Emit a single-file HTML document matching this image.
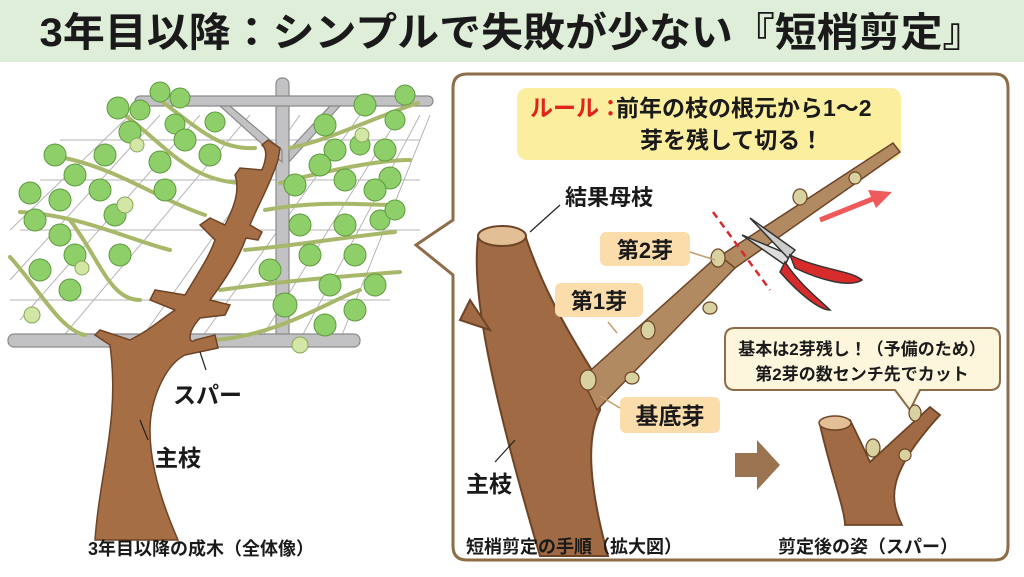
<!DOCTYPE html>
<html><head><meta charset="utf-8"><style>
body{margin:0;width:1024px;height:572px;background:#fff;overflow:hidden;font-family:"Liberation Sans","Noto Sans CJK JP",sans-serif}
svg text{font-family:"Liberation Sans","Noto Sans CJK JP",sans-serif;font-weight:bold}
</style></head><body>
<svg width="1024" height="572" viewBox="0 0 1024 572" xmlns="http://www.w3.org/2000/svg">
<rect x="0" y="0" width="1024" height="62" fill="#dfeed8"/>
<text x="512" y="46" font-size="40" text-anchor="middle" fill="#1a1a1a" textLength="945" lengthAdjust="spacingAndGlyphs">3年目以降：シンプルで失敗が少ない『短梢剪定』</text>

<!-- trellis -->
<g stroke="#b5b5b5" stroke-width="1">
<line x1="20" y1="230" x2="420" y2="230"/><line x1="10" y1="230" x2="130" y2="115"/>
<line x1="40" y1="180" x2="420" y2="180"/><line x1="60" y1="140" x2="420" y2="140"/>
<line x1="10" y1="300" x2="390" y2="300"/>
<line x1="10" y1="280" x2="160" y2="115"/><line x1="20" y1="320" x2="200" y2="115"/>
<line x1="60" y1="340" x2="250" y2="115"/><line x1="140" y1="340" x2="300" y2="115"/>
<line x1="200" y1="340" x2="360" y2="115"/><line x1="260" y1="340" x2="400" y2="115"/>
<line x1="300" y1="340" x2="420" y2="115"/><line x1="340" y1="340" x2="430" y2="115"/>
</g>
<g fill="#c2c2c4" stroke="#8a8a8a" stroke-width="1.2">
<rect x="276" y="78" width="13" height="262" rx="6"/>
<rect x="135" y="96" width="298" height="10" rx="5"/>
<rect x="8" y="334" width="352" height="13" rx="6"/>
<path d="M220 106 L230 106 L282 150 L282 162 Z"/><path d="M340 106 L330 106 L289 150 L289 162 Z"/>
</g>
<!-- vines -->
<g fill="none" stroke="#a8b86a" stroke-width="4" stroke-linecap="round">
<path d="M160 100 C200 130 220 150 255 148"/><path d="M290 148 C330 140 380 115 418 103"/>
<path d="M125 115 C170 150 190 180 240 183"/><path d="M280 183 C330 170 380 160 410 160"/>
<path d="M65 158 C120 170 160 200 205 215"/><path d="M265 210 C320 200 360 205 395 205"/>
<path d="M20 212 C80 215 130 240 170 250"/><path d="M245 250 C300 245 360 235 395 232"/>
<path d="M70 220 C100 260 110 300 140 300"/><path d="M220 290 C290 280 360 275 400 272"/>
<path d="M10 257 C40 290 60 330 85 335"/><path d="M215 340 C280 335 330 300 360 290"/>
</g>
<!-- leaves -->
<g fill="#8fcf6a" stroke="#5d9a3e" stroke-width="1">
<circle cx="160" cy="92" r="10"/><circle cx="180" cy="98" r="10"/><circle cx="118" cy="108" r="11"/><circle cx="140" cy="110" r="10"/>
<circle cx="175" cy="124" r="10"/><circle cx="215" cy="122" r="10"/><circle cx="130" cy="132" r="11"/><circle cx="185" cy="140" r="11"/><circle cx="210" cy="155" r="11"/>
<circle cx="55" cy="155" r="11"/><circle cx="105" cy="155" r="11"/><circle cx="160" cy="162" r="11"/><circle cx="75" cy="175" r="11"/><circle cx="100" cy="190" r="11"/><circle cx="165" cy="190" r="11"/>
<circle cx="30" cy="193" r="11"/><circle cx="60" cy="200" r="11"/><circle cx="115" cy="215" r="11"/><circle cx="35" cy="220" r="11"/><circle cx="60" cy="235" r="11"/>
<circle cx="75" cy="255" r="11"/><circle cx="40" cy="270" r="11"/><circle cx="120" cy="255" r="11"/><circle cx="70" cy="290" r="11"/>
<circle cx="405" cy="95" r="10"/><circle cx="365" cy="105" r="11"/><circle cx="325" cy="125" r="11"/><circle cx="395" cy="120" r="10"/><circle cx="335" cy="150" r="11"/>
<circle cx="360" cy="145" r="10"/><circle cx="385" cy="150" r="11"/><circle cx="320" cy="165" r="11"/><circle cx="345" cy="180" r="11"/><circle cx="390" cy="178" r="11"/><circle cx="295" cy="185" r="11"/>
<circle cx="375" cy="190" r="11"/><circle cx="380" cy="220" r="10"/><circle cx="300" cy="225" r="11"/><circle cx="345" cy="225" r="11"/><circle cx="395" cy="210" r="10"/>
<circle cx="310" cy="255" r="11"/><circle cx="355" cy="255" r="11"/><circle cx="270" cy="270" r="11"/><circle cx="330" cy="285" r="11"/><circle cx="375" cy="285" r="11"/>
<circle cx="285" cy="305" r="12"/><circle cx="325" cy="325" r="11"/><circle cx="355" cy="310" r="11"/>
</g>
<g fill="#d3e6a6" stroke="#8aa85a" stroke-width="1">
<circle cx="137" cy="145" r="7"/><circle cx="125" cy="205" r="8"/><circle cx="82" cy="268" r="7"/><circle cx="32" cy="315" r="8"/><circle cx="300" cy="345" r="8"/><circle cx="362" cy="135" r="7"/>
</g>
<!-- trunk -->
<g fill="#a66e45" stroke="#6e4426" stroke-width="1.5">
<path d="M95 540 C100 470 120 420 110 345 L95 335 L100 330 L130 340 C150 330 160 320 175 310 L150 300 L155 290 L185 295 C200 270 210 255 215 240 L200 225 L210 218 L225 225 C235 205 240 190 235 175 L240 168 L262 170 C266 160 268 150 262 145 L268 140 L280 148 L278 160 C270 185 258 205 250 225 L262 232 L258 240 L246 238 C238 260 225 280 210 300 L230 305 L225 315 L200 318 C185 335 190 345 195 340 L215 335 L218 348 L185 355 C165 365 150 400 150 430 C150 470 165 510 178 540 Z"/>
</g>
<line x1="200" y1="352" x2="206" y2="370" stroke="#222" stroke-width="1.2"/>
<line x1="140" y1="420" x2="148" y2="440" stroke="#222" stroke-width="1.2"/>
<text x="173" y="403" font-size="23" fill="#1a1a1a">スパー</text>
<text x="155" y="466" font-size="23" fill="#1a1a1a">主枝</text>
<text x="88" y="555" font-size="18" fill="#1a1a1a">3年目以降の成木（全体像）</text>

<!-- panel -->
<path d="M467 74 H995 Q1008 74 1008 88 V546 Q1008 560 995 560 H467 Q453 560 453 546 V275 L416 245 L453 220 V88 Q453 74 467 74 Z" fill="#fff" stroke="#8d6c48" stroke-width="3"/>
<rect x="517" y="88" width="384" height="72" rx="10" fill="#fbee9f"/>
<text x="530" y="116" font-size="23" fill="#e0241c">ルール：</text>
<text x="616" y="116" font-size="23" fill="#1a1a1a">前年の枝の根元から1〜2</text>
<text x="640" y="148" font-size="23" fill="#1a1a1a">芽を残して切る！</text>

<!-- big branch -->
<path d="M478 238 C470 300 500 420 540 556 L608 556 C590 490 585 440 600 410 L598 380 C560 320 540 280 525 235 Z" fill="#a06a44" stroke="#6e4426" stroke-width="2"/>
<path d="M460 320 L470 300 L490 330 Z" fill="#a06a44" stroke="#6e4426" stroke-width="2"/>
<ellipse cx="502" cy="236" rx="24" ry="10" fill="#e3bf95" stroke="#6e4426" stroke-width="2"/>
<!-- shoot -->
<path d="M582 378 L597 410 L735 268 L722 252 Z" fill="#b18a62" stroke="#6e4426" stroke-width="1.5"/>
<path d="M720 256 L735 268 L900 152 L893 143 Z" fill="#b18a62" stroke="#6e4426" stroke-width="1.5"/>
<g fill="#d8d2a0" stroke="#6e4426" stroke-width="1.2">
<ellipse cx="588" cy="380" rx="8" ry="10"/><ellipse cx="632" cy="378" rx="7" ry="6"/><ellipse cx="648" cy="330" rx="7" ry="9"/><ellipse cx="710" cy="308" rx="7" ry="6"/>
<ellipse cx="718" cy="258" rx="7" ry="9"/><ellipse cx="800" cy="197" rx="7" ry="8"/><ellipse cx="855" cy="178" rx="6" ry="6"/>
</g>
<line x1="713" y1="212" x2="770" y2="290" stroke="#d9282e" stroke-width="2.5" stroke-dasharray="7,5"/>
<!-- shears -->
<g stroke="#333" stroke-width="1.5">
<path d="M742 235 L790 255 L785 265 Z" fill="#ddd"/><path d="M750 218 L795 250 L788 258 Z" fill="#ccc"/>
<path d="M790 255 C820 270 850 270 862 280 C850 288 820 280 795 268 Z" fill="#d82c2c"/>
<path d="M785 262 C800 285 820 300 830 310 C820 310 800 295 780 272 Z" fill="#d82c2c"/>
</g>
<path d="M820 220 L875 198" stroke="#ef5a5a" stroke-width="5"/><path d="M892 192 L868 190 L876 208 Z" fill="#ef5a5a"/>

<rect x="600" y="232" width="90" height="34" rx="6" fill="#fbdcab"/><text x="645" y="258" font-size="22" fill="#1a1a1a" text-anchor="middle">第2芽</text>
<rect x="555" y="283" width="88" height="34" rx="6" fill="#fbdcab"/><text x="599" y="309" font-size="22" fill="#1a1a1a" text-anchor="middle">第1芽</text>
<rect x="620" y="397" width="100" height="36" rx="6" fill="#fbdcab"/><text x="670" y="424" font-size="23" fill="#1a1a1a" text-anchor="middle">基底芽</text>
<line x1="690" y1="252" x2="715" y2="260" stroke="#c49a6c" stroke-width="1.5"/>
<line x1="608" y1="322" x2="617" y2="333" stroke="#c49a6c" stroke-width="1.5"/>
<line x1="600" y1="396" x2="620" y2="408" stroke="#c49a6c" stroke-width="1.5"/>
<text x="565" y="205" font-size="22" fill="#1a1a1a">結果母枝</text>
<line x1="560" y1="205" x2="530" y2="232" stroke="#222" stroke-width="1.2"/>
<text x="466" y="492" font-size="23" fill="#1a1a1a">主枝</text>
<line x1="495" y1="462" x2="515" y2="440" stroke="#222" stroke-width="1.2"/>
<text x="466" y="553" font-size="18" fill="#1a1a1a">短梢剪定の手順（拡大図）</text>

<path d="M735 453 H757 V440 L780 465 L757 490 V477 H735 Z" fill="#9a7450"/>

<path d="M735 328 H990 Q1000 328 1000 338 V380 Q1000 390 990 390 H920 L910 410 L895 390 H735 Q725 390 725 380 V338 Q725 328 735 328 Z" fill="#fdf6dc" stroke="#8d6c48" stroke-width="2"/>
<text x="862" y="355" font-size="17" fill="#1a1a1a" text-anchor="middle">基本は2芽残し！（予備のため）</text>
<text x="862" y="380" font-size="17" fill="#1a1a1a" text-anchor="middle">第2芽の数センチ先でカット</text>

<path d="M820 425 C830 470 845 510 845 525 H902 C890 500 885 475 940 415 L930 407 L870 462 C860 440 855 430 850 420 Z" fill="#a06a44" stroke="#6e4426" stroke-width="1.8"/>
<ellipse cx="835" cy="423" rx="16" ry="7" fill="#e3bf95" stroke="#6e4426" stroke-width="1.5"/>
<g fill="#d8d2a0" stroke="#6e4426" stroke-width="1.2">
<ellipse cx="873" cy="448" rx="7" ry="9"/><ellipse cx="905" cy="455" rx="6" ry="6"/><ellipse cx="915" cy="413" rx="6" ry="8"/>
</g>
<text x="778" y="553" font-size="18" fill="#1a1a1a">剪定後の姿（スパー）</text>
</svg>
</body></html>
